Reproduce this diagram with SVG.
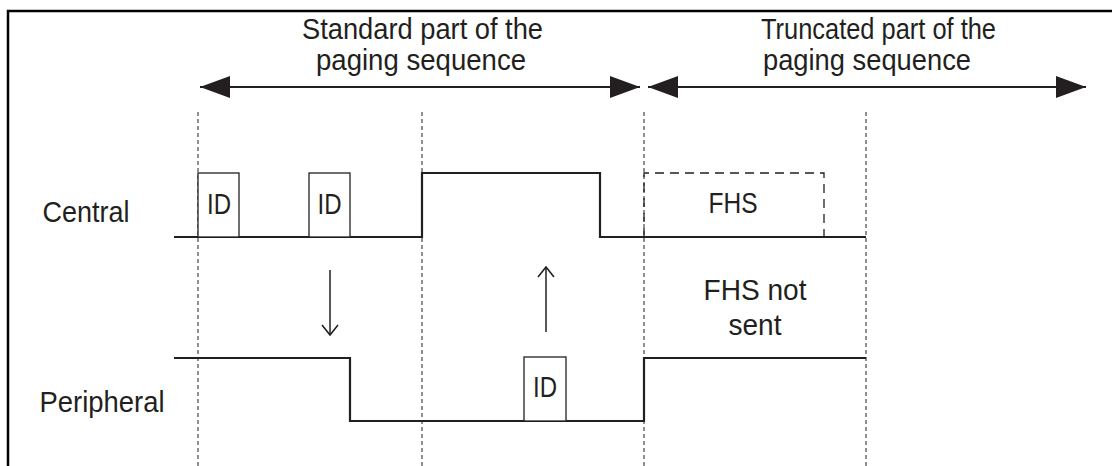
<svg xmlns="http://www.w3.org/2000/svg" width="1112" height="466" viewBox="0 0 1112 466">
<defs>
<style>
.t{font-family:"Liberation Sans",Arial,Helvetica,sans-serif;font-size:30px;fill:#231f20;text-anchor:middle}
.sig{fill:none;stroke:#231f20;stroke-width:2.2}
.box{fill:#fff;stroke:#231f20;stroke-width:1.3}
.dash{fill:none;stroke:#231f20;stroke-width:1;stroke-dasharray:4 3}
.arr{fill:none;stroke:#231f20;stroke-width:2}
.thin{fill:none;stroke:#231f20;stroke-width:1.5}
</style>
<marker id="big" viewBox="0 0 30 22" refX="30" refY="11" markerWidth="30" markerHeight="22" markerUnits="userSpaceOnUse" orient="auto-start-reverse">
<path d="M0,0 L30,11 L0,22 Z" fill="#231f20"/>
</marker>
<marker id="open" viewBox="0 0 12 18" refX="11" refY="9" markerWidth="12" markerHeight="18" markerUnits="userSpaceOnUse" orient="auto">
<path d="M1,1 L11,9 L1,17" fill="none" stroke="#231f20" stroke-width="1.6"/>
</marker>
</defs>
<rect width="1112" height="466" fill="#fff"/>
<path id="frame" d="M8,470 L8,11 L1120,11" fill="none" stroke="#000" stroke-width="2.5"/>

<g id="labels">
<text class="t" x="422.5" y="39" textLength="241" lengthAdjust="spacingAndGlyphs">Standard part of the</text>
<text class="t" x="421" y="70" textLength="210" lengthAdjust="spacingAndGlyphs">paging sequence</text>
<text class="t" x="878.5" y="39" textLength="235" lengthAdjust="spacingAndGlyphs">Truncated part of the</text>
<text class="t" x="867" y="70" textLength="208" lengthAdjust="spacingAndGlyphs">paging sequence</text>
<text class="t" x="86" y="222" textLength="87" lengthAdjust="spacingAndGlyphs">Central</text>
<text class="t" x="102" y="412" textLength="125" lengthAdjust="spacingAndGlyphs">Peripheral</text>
<text class="t" x="755" y="300" textLength="103" lengthAdjust="spacingAndGlyphs">FHS not</text>
<text class="t" x="755" y="335" textLength="53" lengthAdjust="spacingAndGlyphs">sent</text>
</g>

<g id="guides">
<line class="dash" x1="198" y1="112" x2="198" y2="466"/>
<line class="dash" x1="422" y1="112" x2="422" y2="466"/>
<line class="dash" x1="644" y1="112" x2="644" y2="466"/>
<line class="dash" x1="866" y1="112" x2="866" y2="466"/>
</g>

<g id="connectors">
<line class="arr" x1="200" y1="87" x2="640" y2="87" marker-start="url(#big)" marker-end="url(#big)"/>
<line class="arr" x1="648" y1="87" x2="1086" y2="87" marker-start="url(#big)" marker-end="url(#big)"/>
<line class="thin" x1="330" y1="270" x2="330" y2="335" marker-end="url(#open)"/>
<line class="thin" x1="546" y1="332" x2="546" y2="267" marker-end="url(#open)"/>
</g>

<g id="central">
<path class="sig" d="M174,237 L422,237 L422,173 L600,173 L600,237 L866,237"/>
</g>
<g id="id1">
<rect class="box" x="198" y="173" width="41" height="64"/>
<text class="t" x="219" y="214" textLength="24" lengthAdjust="spacingAndGlyphs">ID</text>
</g>
<g id="id2">
<rect class="box" x="309" y="173" width="41" height="64"/>
<text class="t" x="329.5" y="214" textLength="24" lengthAdjust="spacingAndGlyphs">ID</text>
</g>
<g id="fhs">
<path d="M644,237 L644,173 L824,173 L824,237" fill="none" stroke="#231f20" stroke-width="1.3" stroke-dasharray="9 6"/>
<text class="t" x="733" y="213" textLength="49" lengthAdjust="spacingAndGlyphs">FHS</text>
</g>

<g id="peripheral">
<path class="sig" d="M174,358 L350,358 L350,421 L644,421 L644,358 L866,358"/>
</g>
<g id="id3">
<rect class="box" x="524" y="357" width="42" height="64"/>
<text class="t" x="545" y="397" textLength="24" lengthAdjust="spacingAndGlyphs">ID</text>
</g>
</svg>
